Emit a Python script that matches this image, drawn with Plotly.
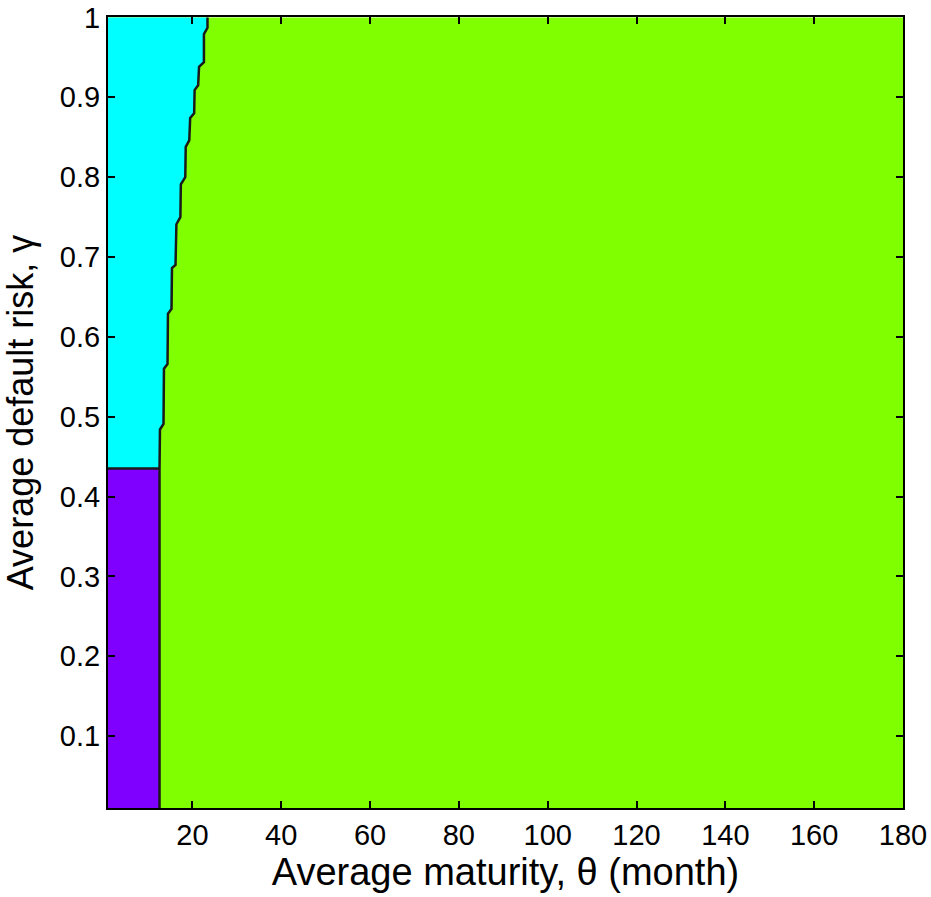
import plotly.graph_objects as go

# Axis extents
theta_range = [1, 180]
gamma_range = [0.01, 1.0]

# Region boundaries
purple_theta_max = 12.6
purple_gamma_max = 0.435

# Cyan / green boundary (top to bottom)
boundary_gamma = [1.0, 0.987, 0.979, 0.944, 0.938, 0.915, 0.909, 0.880, 0.874, 0.846,
                  0.838, 0.800, 0.791, 0.750, 0.741, 0.690, 0.686, 0.635, 0.629, 0.566,
                  0.560, 0.491, 0.484, 0.435]
boundary_theta = [23.4, 23.4, 22.6, 22.6, 21.5, 21.3, 20.5, 20.4, 19.5, 19.3,
                  18.5, 18.4, 17.4, 17.3, 16.4, 16.2, 15.4, 15.3, 14.5, 14.4,
                  13.6, 13.5, 12.7, 12.6]

x_ticks = [20, 40, 60, 80, 100, 120, 140, 160, 180]
y_ticks = [0.1, 0.2, 0.3, 0.4, 0.5, 0.6, 0.7, 0.8, 0.9, 1.0]
y_tick_labels = ["0.1", "0.2", "0.3", "0.4", "0.5", "0.6", "0.7", "0.8", "0.9", "1"]

GREEN = "#80FF00"
CYAN = "#00FFFF"
PURPLE = "#8000FF"
EDGE = "#1a1a1a"
FONT = "Liberation Sans, Arial, sans-serif"

fig = go.Figure()

# Green background region
fig.add_trace(go.Scatter(
    x=[theta_range[0], theta_range[1], theta_range[1], theta_range[0], theta_range[0]],
    y=[gamma_range[0], gamma_range[0], gamma_range[1], gamma_range[1], gamma_range[0]],
    mode="lines", fill="toself", fillcolor=GREEN, line=dict(width=0, color=GREEN),
    hoverinfo="skip", showlegend=False))

# Cyan region
cx = [theta_range[0]] + boundary_theta + [theta_range[0], theta_range[0]]
cy = [gamma_range[1]] + boundary_gamma + [purple_gamma_max, gamma_range[1]]
fig.add_trace(go.Scatter(
    x=cx, y=cy, mode="lines", fill="toself", fillcolor=CYAN,
    line=dict(width=0, color=CYAN), hoverinfo="skip", showlegend=False))

# Purple region
px_ = [theta_range[0], purple_theta_max, purple_theta_max, theta_range[0], theta_range[0]]
py_ = [gamma_range[0], gamma_range[0], purple_gamma_max, purple_gamma_max, gamma_range[0]]
fig.add_trace(go.Scatter(
    x=px_, y=py_, mode="lines", fill="toself", fillcolor=PURPLE,
    line=dict(width=0, color=PURPLE), hoverinfo="skip", showlegend=False))

# Contour edges
fig.add_trace(go.Scatter(
    x=boundary_theta + [purple_theta_max], y=boundary_gamma + [gamma_range[0]],
    mode="lines", line=dict(width=2.5, color=EDGE), hoverinfo="skip", showlegend=False))
fig.add_trace(go.Scatter(
    x=[theta_range[0], purple_theta_max], y=[purple_gamma_max, purple_gamma_max],
    mode="lines", line=dict(width=2.5, color=EDGE), hoverinfo="skip", showlegend=False))

axis_common = dict(
    showgrid=False, zeroline=False, showline=True, linecolor="black", linewidth=2,
    mirror="allticks", ticks="inside", ticklen=7, tickwidth=1.5, tickcolor="black",
    automargin=False, ticklabeloverflow="allow",
    tickfont=dict(family=FONT, size=29, color="black"),
)

fig.update_layout(
    width=931, height=897,
    margin=dict(l=108, r=28, t=17, b=89),
    paper_bgcolor="white", plot_bgcolor="white",
    font=dict(family=FONT, color="black"),
    xaxis=dict(range=theta_range, tickvals=x_ticks,
               title=dict(text="Average maturity, θ (month)", font=dict(size=38), standoff=8),
               **axis_common),
    yaxis=dict(range=[gamma_range[0], gamma_range[1] + 0.0005], tickvals=y_ticks,
               ticktext=y_tick_labels,
               title=dict(text="Average default risk, γ", font=dict(size=36), standoff=28),
               **axis_common),
)

fig.write_html(
    "out.html",
    config={"displayModeBar": False},
    post_script="document.body.style.margin='0';document.body.style.overflow='hidden';",
)
